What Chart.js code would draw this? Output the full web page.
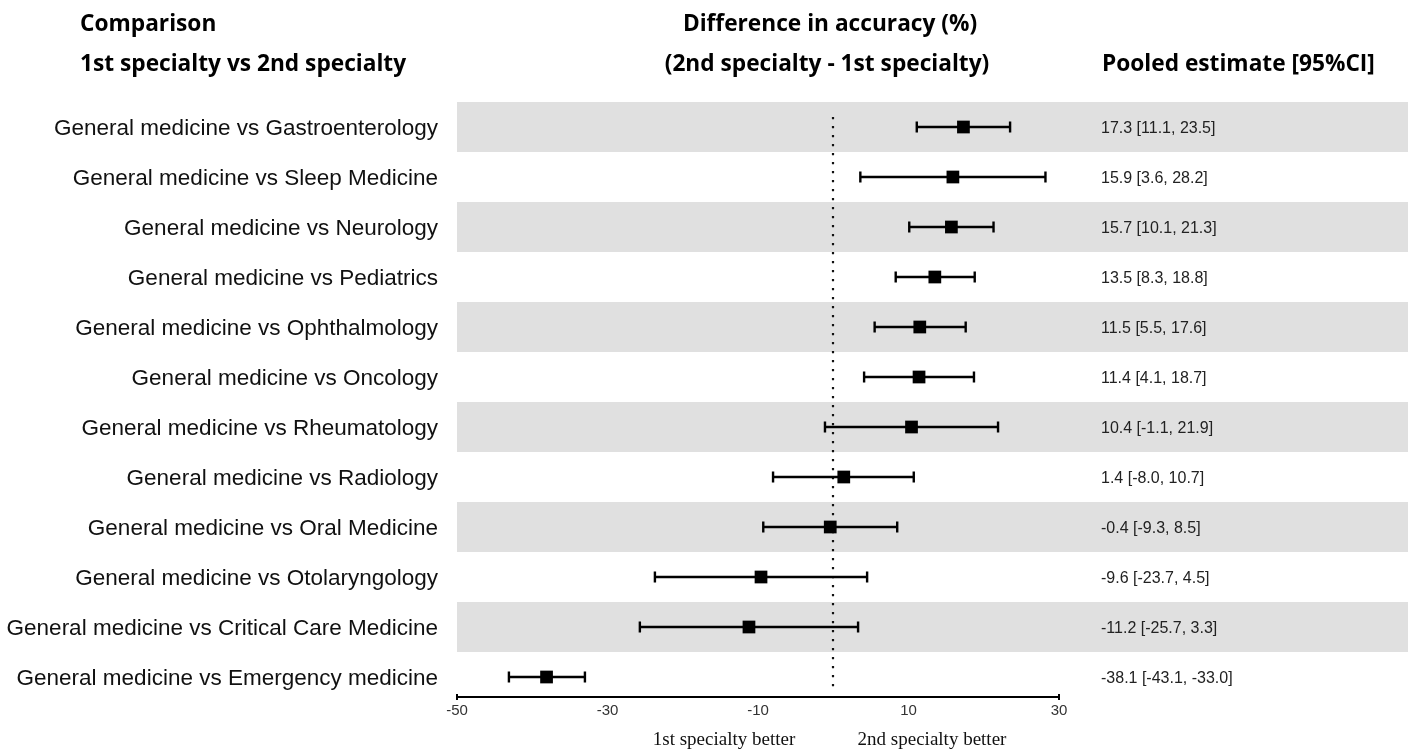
<!DOCTYPE html>
<html>
<head>
<meta charset="utf-8">
<title>Difference in accuracy - forest plot</title>
<script src="https://cdn.jsdelivr.net/npm/chart.js@4.4.0/dist/chart.umd.min.js"></script>
<style>
  html, body { margin: 0; padding: 0; background: #fff; }
  canvas { display: block; }
</style>
</head>
<body>
<canvas id="forestChart" width="1410" height="750"></canvas>
<script>
// ======== Data ========
const comparisons = [
  "General medicine vs Gastroenterology",
  "General medicine vs Sleep Medicine",
  "General medicine vs Neurology",
  "General medicine vs Pediatrics",
  "General medicine vs Ophthalmology",
  "General medicine vs Oncology",
  "General medicine vs Rheumatology",
  "General medicine vs Radiology",
  "General medicine vs Oral Medicine",
  "General medicine vs Otolaryngology",
  "General medicine vs Critical Care Medicine",
  "General medicine vs Emergency medicine",
];
const estimates = [17.3, 15.9, 15.7, 13.5, 11.5, 11.4, 10.4, 1.4, -0.4, -9.6, -11.2, -38.1];
const lowerCI = [11.1, 3.6, 10.1, 8.3, 5.5, 4.1, -1.1, -8.0, -9.3, -23.7, -25.7, -43.1];
const upperCI = [23.5, 28.2, 21.3, 18.8, 17.6, 18.7, 21.9, 10.7, 8.5, 4.5, 3.3, -33.0];
const xTicks = [-50, -30, -10, 10, 30];

// ======== Text helper ========
function drawText(ctx, text, x, y, font, color, align) {
  ctx.font = font;
  ctx.fillStyle = color;
  ctx.textAlign = align || "left";
  ctx.textBaseline = "alphabetic";
  ctx.fillText(text, x, y);
}

// ======== Forest plot pieces: bands, zero line, CIs, texts ========
const forestPlugin = {
  id: "forest",
  beforeDraw(chart) {
    const { ctx, chartArea, scales: { y } } = chart;
    ctx.save();
    ctx.fillStyle = "#e0e0e0";
    comparisons.forEach((_, i) => {
      if (i % 2) return;
      const top = y.getPixelForValue(i - 0.5);
      const bottom = y.getPixelForValue(i + 0.5);
      ctx.fillRect(chartArea.left, top, chart.width - 2 - chartArea.left, bottom - top);
    });
    ctx.restore();
  },
  beforeDatasetsDraw(chart) {
    const { ctx, chartArea, scales: { x, y } } = chart;
    ctx.save();

    // dotted line of no difference
    const x0 = Math.round(x.getPixelForValue(0));
    ctx.strokeStyle = "#111";
    ctx.lineWidth = 2.2;
    ctx.setLineDash([2.2, 6.8]);
    ctx.beginPath();
    ctx.moveTo(x0, chartArea.top + 15);
    ctx.lineTo(x0, chartArea.bottom - 8);
    ctx.stroke();
    ctx.setLineDash([]);

    // confidence intervals with caps
    ctx.strokeStyle = "#000";
    ctx.lineWidth = 2.4;
    estimates.forEach((_, i) => {
      const py = y.getPixelForValue(i);
      const lx = x.getPixelForValue(lowerCI[i]);
      const hx = x.getPixelForValue(upperCI[i]);
      ctx.beginPath();
      ctx.moveTo(lx, py);
      ctx.lineTo(hx, py);
      ctx.moveTo(lx, py - 5.5);
      ctx.lineTo(lx, py + 5.5);
      ctx.moveTo(hx, py - 5.5);
      ctx.lineTo(hx, py + 5.5);
      ctx.stroke();
    });
    ctx.restore();
  },
  afterDraw(chart) {
    const { ctx, chartArea, scales: { x, y } } = chart;
    ctx.save();

    // small end caps on the axis
    ctx.strokeStyle = "#000";
    ctx.lineWidth = 2;
    [x.min, x.max].forEach((v) => {
      const px = x.getPixelForValue(v);
      ctx.beginPath();
      ctx.moveTo(px, chartArea.bottom - 3);
      ctx.lineTo(px, chartArea.bottom + 3);
      ctx.stroke();
    });

    // column headers
    const headFont = "bold 22.7px 'Open Sans'";
    drawText(ctx, "Comparison", 80, 31, headFont, "#000");
    drawText(ctx, "1st specialty vs 2nd specialty", 80, 71, headFont, "#000");
    drawText(ctx, "Difference in accuracy (%)", 830, 31, headFont, "#000", "center");
    drawText(ctx, "(2nd specialty - 1st specialty)", 827, 71, headFont, "#000", "center");
    drawText(ctx, "Pooled estimate [95%CI]", 1102, 71, headFont, "#000");

    // row labels and pooled estimates
    comparisons.forEach((label, i) => {
      const py = y.getPixelForValue(i);
      drawText(ctx, label, 438, py + 8, "22.5px 'Liberation Sans'", "#111", "right");
      const txt = `${estimates[i].toFixed(1)} [${lowerCI[i].toFixed(1)}, ${upperCI[i].toFixed(1)}]`;
      drawText(ctx, txt, 1101, py + 5.5, "16px 'Liberation Sans'", "#222");
    });

    // direction labels
    const dirFont = "19px 'Liberation Serif'";
    drawText(ctx, "1st specialty better", 724, 745, dirFont, "#111", "center");
    drawText(ctx, "2nd specialty better", 932, 745, dirFont, "#111", "center");
    ctx.restore();
  },
};

// ======== Build chart ========
new Chart(document.getElementById("forestChart").getContext("2d"), {
  type: "scatter",
  data: {
    datasets: [
      {
        label: "Pooled estimate",
        data: estimates.map((v, i) => ({ x: v, y: i })),
        pointStyle: "rect",
        pointRadius: 9,
        pointHoverRadius: 9,
        backgroundColor: "#000",
        borderWidth: 0,
      },
    ],
  },
  options: {
    responsive: false,
    animation: false,
    devicePixelRatio: 1,
    layout: { padding: { top: 102, left: 457, right: 351, bottom: 0 } },
    plugins: {
      legend: { display: false },
      tooltip: { enabled: false },
    },
    scales: {
      x: {
        type: "linear",
        min: xTicks[0],
        max: xTicks[xTicks.length - 1],
        afterBuildTicks: (scale) => {
          scale.ticks = xTicks.map((v) => ({ value: v }));
        },
        afterFit: (scale) => {
          scale.height = 53;
        },
        grid: { display: false, drawTicks: false },
        border: { display: true, color: "#000", width: 2 },
        ticks: {
          padding: 5,
          color: "#333",
          font: { family: "'Liberation Sans'", size: 15 },
          maxRotation: 0,
        },
      },
      y: {
        type: "linear",
        reverse: true,
        min: -0.5,
        max: 11.4,
        display: false,
      },
    },
  },
  plugins: [forestPlugin],
});
</script>
</body>
</html>
